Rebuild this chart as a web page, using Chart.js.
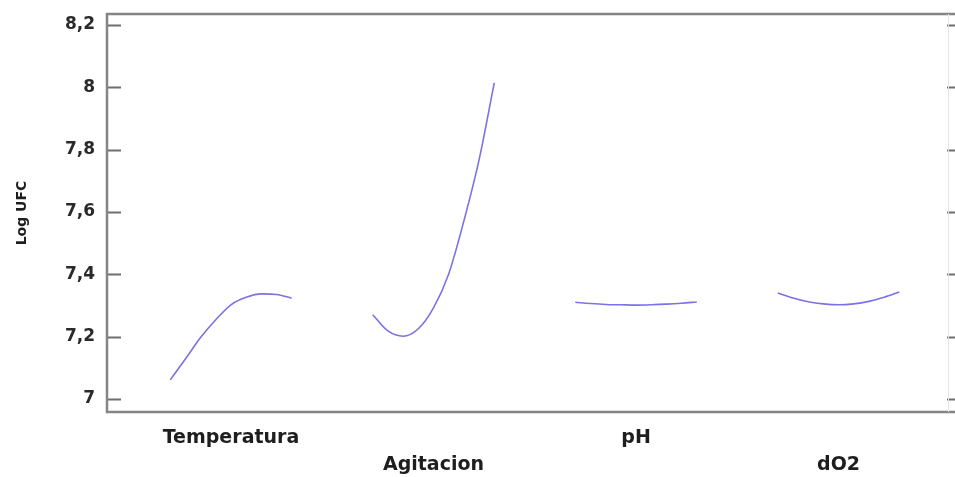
<!DOCTYPE html>
<html>
<head>
<meta charset="utf-8">
<script src="https://cdn.jsdelivr.net/npm/chart.js@4.4.0/dist/chart.umd.min.js"></script>
<style>
  html, body { margin: 0; padding: 0; background: #fff; }
  #wrap { width: 955px; height: 477px; position: relative; }
</style>
</head>
<body>
<div id="wrap"><canvas id="effects"></canvas></div>
<script>
// main effects for Log UFC, coded levels -1 .. 1 for each factor
const factors = ['Temperatura', 'Agitacion', 'pH', 'dO2'];
const levels = [-1, -0.75, -0.5, -0.25, 0, 0.25, 0.5, 0.75, 1];

const temperatura = [7.061, 7.128, 7.197, 7.254, 7.302, 7.326, 7.337, 7.335, 7.323];
const agitacion   = [7.270, 7.218, 7.201, 7.225, 7.292, 7.401, 7.571, 7.767, 8.014];
const pH          = [7.310, 7.306, 7.303, 7.302, 7.301, 7.302, 7.304, 7.307, 7.311];
const dO2         = [7.340, 7.324, 7.312, 7.305, 7.302, 7.305, 7.313, 7.326, 7.343];

const yTicks = [7, 7.2, 7.4, 7.6, 7.8, 8, 8.2];

const series = [temperatura, agitacion, pH, dO2];
const halfWidth = 0.3;
const lineColor = '#7b72e6';

const datasets = series.map((vals, i) => ({
    label: factors[i],
    data: vals.map((v, k) => ({ x: i + levels[k] * halfWidth, y: v })),
    borderColor: lineColor,
    borderWidth: 1.6,
    pointRadius: 0,
    fill: false,
    cubicInterpolationMode: 'monotone'
}));

// frame + inner tick marks like the original plot
const framePlugin = {
    id: 'frame',
    afterDraw(chart) {
        const { ctx, chartArea: a, scales } = chart;
        ctx.save();
        ctx.strokeStyle = '#6e6e6e';
        ctx.lineWidth = 2;
        scales.y.ticks.forEach(t => {
            const py = Math.round(scales.y.getPixelForValue(t.value)) + 0.5;
            ctx.beginPath();
            ctx.moveTo(a.left, py);
            ctx.lineTo(a.left + 14, py);
            ctx.moveTo(a.right - 6, py);
            ctx.lineTo(a.right + 2, py);
            ctx.stroke();
        });
        ctx.strokeStyle = '#858585';
        ctx.lineWidth = 2.5;
        ctx.beginPath();
        ctx.moveTo(a.right + 2, a.top);
        ctx.lineTo(a.left, a.top);
        ctx.lineTo(a.left, a.bottom);
        ctx.lineTo(a.right + 2, a.bottom);
        ctx.stroke();
        ctx.strokeStyle = '#e4e4e4';
        ctx.lineWidth = 1;
        ctx.beginPath();
        ctx.moveTo(a.right - 4.5, a.top);
        ctx.lineTo(a.right - 4.5, a.bottom);
        ctx.stroke();
        ctx.restore();
    }
};

new Chart(document.getElementById('effects'), {
    type: 'line',
    data: { datasets: datasets },
    options: {
        responsive: true,
        maintainAspectRatio: false,
        animation: false,
        layout: { padding: { top: 14, right: 2, left: 0, bottom: 0 } },
        plugins: {
            legend: { display: false },
            tooltip: { enabled: false }
        },
        scales: {
            x: {
                type: 'linear',
                min: -0.612,
                max: 3.565,
                grid: { display: false, drawTicks: false },
                border: { display: false },
                afterBuildTicks: (scale) => {
                    scale.ticks = factors.map((f, i) => ({ value: i }));
                },
                afterFit: (scale) => {
                    scale.height = 65;
                    scale.paddingLeft = 0;
                    scale.paddingRight = 0;
                },
                ticks: {
                    padding: 12,
                    maxRotation: 0,
                    autoSkip: false,
                    color: '#1e1e1e',
                    font: { family: 'DejaVu Sans', size: 19, weight: 'bold', lineHeight: 1.45 },
                    callback: (v) => {
                        const i = Math.round(v);
                        return i % 2 === 1 ? ['', factors[i]] : factors[i];
                    }
                }
            },
            y: {
                min: 6.958,
                max: 8.235,
                grid: { display: false, drawTicks: false },
                border: { display: false },
                afterBuildTicks: (scale) => {
                    scale.ticks = yTicks.map(v => ({ value: v }));
                },
                afterFit: (scale) => {
                    scale.width = 107;
                    scale.paddingTop = 0;
                    scale.paddingBottom = 0;
                },
                title: {
                    display: true,
                    text: 'Log UFC',
                    color: '#1e1e1e',
                    padding: { top: 14, bottom: 0 },
                    font: { family: 'DejaVu Sans', size: 14, weight: 'bold' }
                },
                ticks: {
                    padding: 12,
                    color: '#2a2a2a',
                    font: { family: 'DejaVu Sans', size: 17, weight: 'bold' },
                    callback: (v) => String(v).replace('.', ',')
                }
            }
        }
    },
    plugins: [framePlugin]
});
</script>
</body>
</html>
